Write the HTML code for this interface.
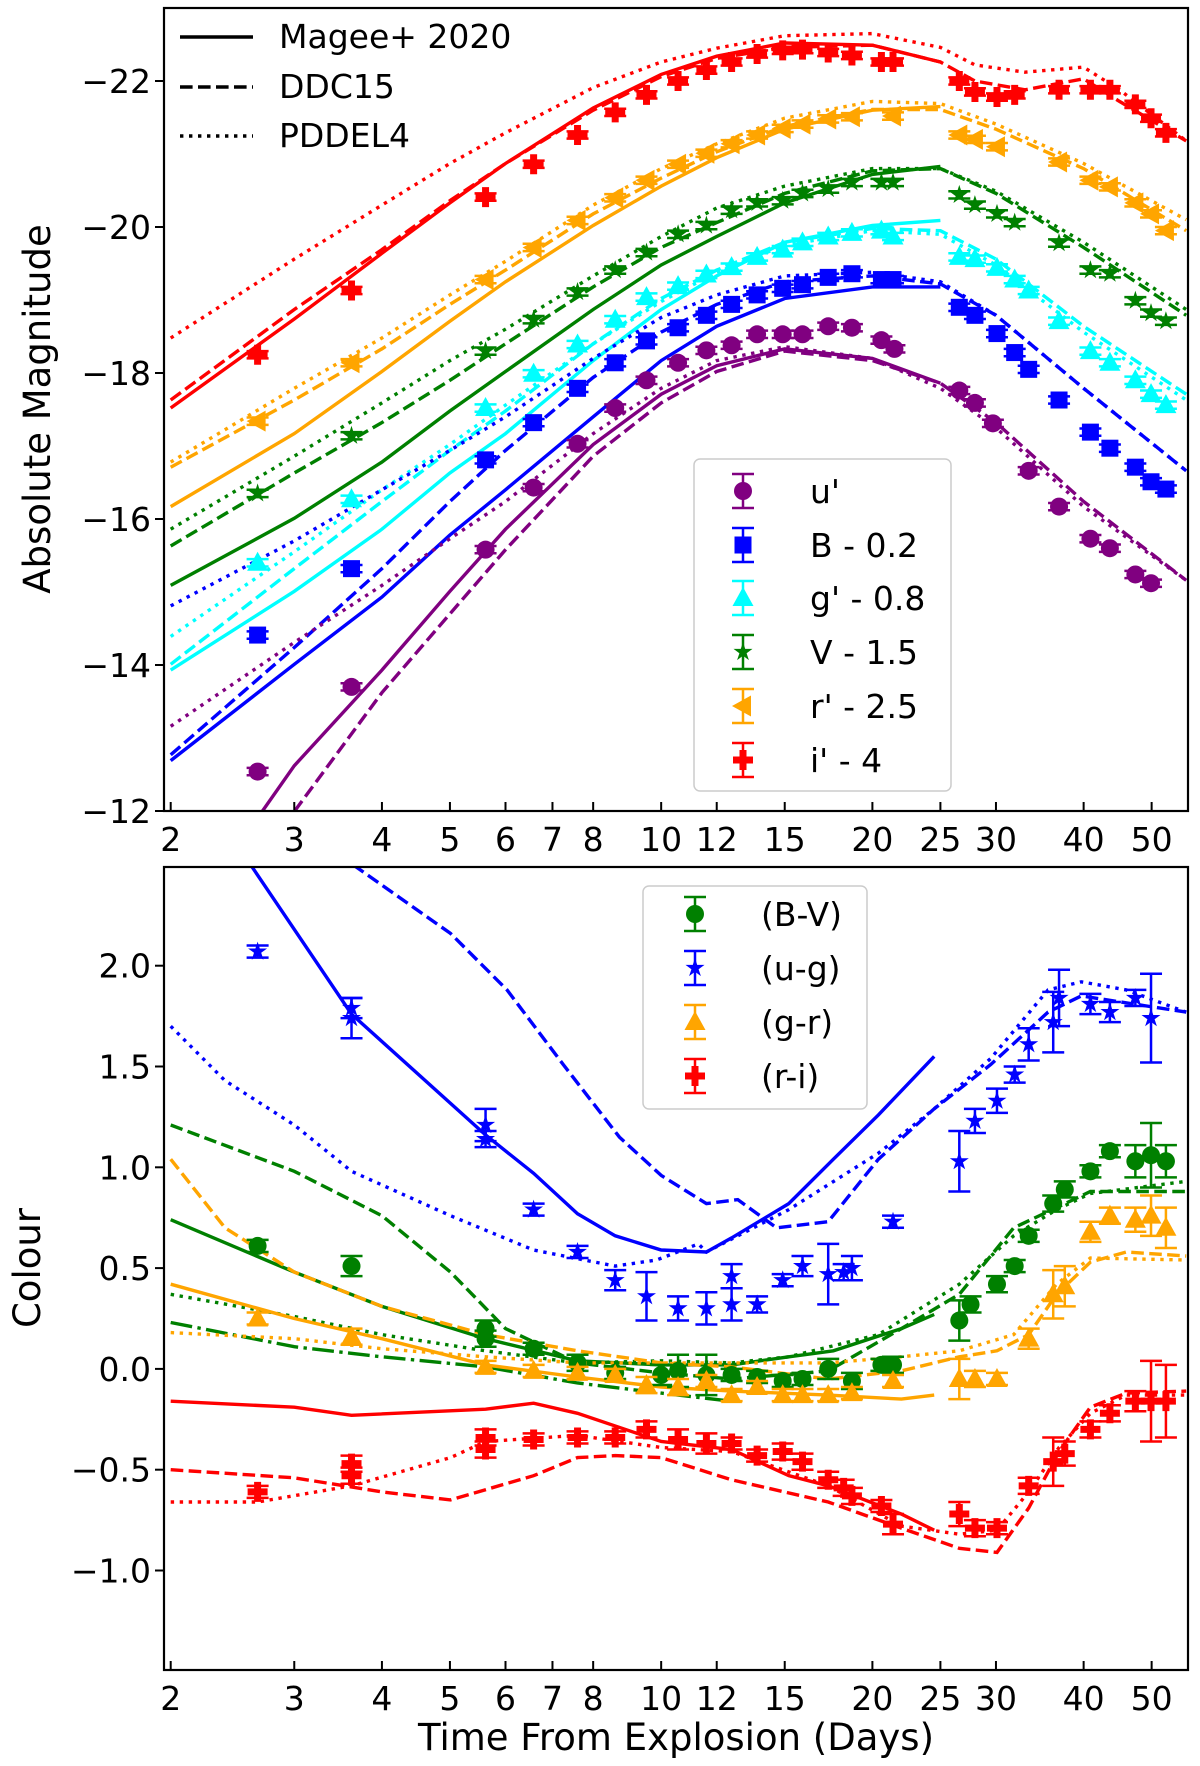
<!DOCTYPE html>
<html><head><meta charset="utf-8"><style>
html,body{margin:0;padding:0;background:#fff;}
svg{display:block;font-family:"DejaVu Sans","Liberation Sans",sans-serif;}
</style></head><body>
<svg id="fig" width="1200" height="1766" viewBox="0 0 1200 1766" xmlns="http://www.w3.org/2000/svg">
<defs>
<clipPath id="clipTop"><rect x="164" y="8" width="1024" height="803"/></clipPath>
<clipPath id="clipBot"><rect x="164" y="867" width="1024" height="803"/></clipPath>
</defs>
<g id="topPanel"></g>
<g id="botPanel"></g>
</svg>
<script>
// ---------- TOP PANEL DATA ----------
const tickXVals=[2,3,4,5,6,7,8,10,12,15,20,25,30,40,50];
const tickTopVals=[-22,-20,-18,-16,-14,-12];
const tickBotVals=[2.0,1.5,1.0,0.5,0.0,-0.5,-1.0];

const uT=[2.66,3.62,5.62,6.58,7.6,8.6,9.53,10.57,11.6,12.6,13.7,14.9,15.9,17.3,18.7,20.6,21.5,26.6,28.0,29.7,33.4,36.9,40.9,43.6,47.4,49.9];
const uM=[-12.54,-13.70,-15.58,-16.43,-17.03,-17.52,-17.90,-18.14,-18.31,-18.38,-18.53,-18.53,-18.53,-18.64,-18.62,-18.45,-18.33,-17.76,-17.59,-17.31,-16.66,-16.17,-15.73,-15.60,-15.24,-15.12];
const bT=[2.66,3.62,5.62,6.58,7.6,8.6,9.53,10.57,11.6,12.6,13.7,14.9,15.9,17.3,18.7,20.6,21.4,26.6,28.0,30.1,31.9,33.4,36.9,40.9,43.6,47.4,49.9,52.4];
const bM=[-14.41,-15.32,-16.81,-17.32,-17.79,-18.14,-18.44,-18.62,-18.79,-18.94,-19.07,-19.16,-19.21,-19.31,-19.36,-19.28,-19.28,-18.90,-18.79,-18.54,-18.28,-18.05,-17.63,-17.19,-16.97,-16.71,-16.51,-16.41];
const gT=[2.66,3.62,5.62,6.58,7.6,8.6,9.53,10.57,11.6,12.6,13.7,14.9,15.9,17.3,18.7,20.6,21.4,26.6,28.0,30.1,31.9,33.4,36.9,40.9,43.6,47.4,49.9,52.4];
const gM=[-15.40,-16.27,-17.52,-17.99,-18.39,-18.73,-19.04,-19.19,-19.35,-19.45,-19.59,-19.69,-19.79,-19.87,-19.92,-19.95,-19.87,-19.59,-19.56,-19.44,-19.28,-19.13,-18.71,-18.30,-18.14,-17.90,-17.71,-17.56];
const vT=[2.66,3.62,5.62,6.58,7.6,8.6,9.53,10.57,11.6,12.6,13.7,14.9,15.9,17.3,18.7,20.6,21.4,26.6,28.0,30.1,31.9,36.9,40.9,43.6,47.4,49.9,52.4];
const vM=[-16.35,-17.14,-18.30,-18.73,-19.11,-19.41,-19.65,-19.90,-20.02,-20.23,-20.33,-20.36,-20.46,-20.52,-20.61,-20.61,-20.61,-20.44,-20.30,-20.18,-20.06,-19.78,-19.41,-19.36,-18.99,-18.82,-18.71];
const rT=[2.66,3.62,5.62,6.58,7.6,8.6,9.53,10.57,11.6,12.6,13.7,14.9,15.9,17.3,18.7,21.4,26.6,28.0,30.1,36.9,40.9,43.6,47.4,49.9,52.4];
const rM=[-17.34,-18.14,-19.28,-19.72,-20.09,-20.40,-20.64,-20.86,-21.01,-21.14,-21.26,-21.35,-21.41,-21.48,-21.51,-21.52,-21.26,-21.20,-21.10,-20.89,-20.64,-20.55,-20.33,-20.18,-19.95];
const iT=[2.66,3.62,5.62,6.58,7.6,8.6,9.53,10.57,11.6,12.6,13.7,14.9,15.9,17.3,18.7,20.6,21.4,26.6,28.0,30.1,31.9,36.9,40.9,43.6,47.4,49.9,52.4];
const iM=[-18.25,-19.13,-20.41,-20.86,-21.26,-21.57,-21.81,-22.00,-22.15,-22.26,-22.37,-22.42,-22.43,-22.39,-22.35,-22.26,-22.26,-22.00,-21.85,-21.78,-21.81,-21.88,-21.88,-21.88,-21.68,-21.49,-21.29];

// model curves (top)
const solidT=[2,3,4,5,6,8,10,12,15,20,25];
const longT=[2,3,4,5,6,8,10,12,15,20,25,30,40,56];
const redLongT=[2,3,4,5,6,8,10,12,15,20,25,28,33,40,45,56];
const iSolid=[-17.52,-18.74,-19.64,-20.33,-20.87,-21.63,-22.09,-22.34,-22.52,-22.49,-22.26];
const iDash=[-17.63,-18.87,-19.69,-20.36,-20.87,-21.60,-22.06,-22.31,-22.46,-22.49,-22.26,-22.00,-21.88,-22.03,-21.72,-21.18];
const iDot=[-18.48,-19.56,-20.30,-20.87,-21.29,-21.91,-22.26,-22.45,-22.62,-22.65,-22.46,-22.22,-22.12,-22.19,-21.88,-21.18];
const rSolid=[-16.17,-17.17,-18.02,-18.71,-19.25,-20.02,-20.56,-20.95,-21.34,-21.60,-21.65];
const rDash=[-16.71,-17.63,-18.33,-18.94,-19.41,-20.18,-20.67,-21.03,-21.38,-21.61,-21.61,-21.34,-20.80,-19.95];
const rDot=[-16.78,-17.79,-18.48,-19.07,-19.53,-20.30,-20.80,-21.14,-21.49,-21.72,-21.69,-21.41,-20.87,-20.10];
const vSolid=[-15.09,-16.01,-16.78,-17.48,-18.02,-18.87,-19.48,-19.87,-20.33,-20.72,-20.83];
const vDash=[-15.63,-16.63,-17.32,-17.90,-18.40,-19.18,-19.72,-20.06,-20.46,-20.77,-20.80,-20.46,-19.72,-18.79];
const vDot=[-15.86,-16.86,-17.59,-18.17,-18.60,-19.33,-19.87,-20.26,-20.56,-20.80,-20.80,-20.49,-19.79,-18.87];
const gSolid=[-13.93,-15.01,-15.86,-16.63,-17.17,-18.17,-18.87,-19.33,-19.79,-20.02,-20.09];
const gDash=[-14.01,-15.32,-16.24,-16.94,-17.48,-18.40,-19.02,-19.41,-19.79,-19.98,-19.95,-19.56,-18.64,-17.71];
const gDot=[-14.39,-15.55,-16.40,-17.02,-17.56,-18.40,-18.98,-19.38,-19.75,-19.95,-19.90,-19.48,-18.56,-17.63];
const bSolid=[-12.69,-14.01,-14.93,-15.78,-16.40,-17.40,-18.17,-18.64,-19.02,-19.18,-19.18];
const bDash=[-12.77,-14.24,-15.32,-16.24,-16.94,-17.94,-18.56,-18.94,-19.25,-19.33,-19.22,-18.79,-17.79,-16.66];
const bDot=[-14.81,-15.70,-16.40,-16.94,-17.40,-18.20,-18.76,-19.07,-19.33,-19.38,-19.25,-18.79,-17.79,-16.66];
const uSolidT=[2.6,3,4,5,6,8,10,12,15,20,25];
const uSolid=[-11.77,-12.62,-13.93,-15.01,-15.86,-17.02,-17.71,-18.10,-18.33,-18.20,-17.86];
const uDashT=[2.9,4,5,6,8,10,12,15,20,25,30,40,56];
const uDash=[-11.8,-13.62,-14.70,-15.58,-16.86,-17.59,-18.02,-18.30,-18.17,-17.86,-17.32,-16.24,-15.16];
const uDot=[-13.16,-14.31,-15.09,-15.73,-16.24,-17.17,-17.79,-18.17,-18.36,-18.20,-17.79,-17.25,-16.17,-15.16];

// ---------- BOTTOM PANEL DATA ----------
const ugT=[2.66,3.62,3.62,5.62,5.62,6.58,7.6,8.6,9.53,10.57,11.6,12.6,12.6,13.7,14.9,15.9,17.3,18.2,18.7,21.4,26.6,28.0,30.1,31.9,33.4,36.2,36.9,40.9,43.6,47.4,49.9];
const ugC=[2.07,1.79,1.74,1.21,1.14,0.79,0.58,0.44,0.36,0.30,0.30,0.32,0.46,0.32,0.44,0.51,0.47,0.48,0.50,0.73,1.03,1.23,1.33,1.46,1.61,1.72,1.84,1.81,1.77,1.84,1.74];
const ugE=[0.03,0.05,0.1,0.08,0.04,0.03,0.03,0.05,0.12,0.06,0.08,0.08,0.06,0.04,0.03,0.05,0.15,0.04,0.06,0.03,0.15,0.06,0.06,0.04,0.08,0.15,0.14,0.05,0.05,0.04,0.22];
const bvT=[2.66,3.62,5.62,5.62,6.58,7.6,8.6,10.0,10.57,11.6,12.6,13.7,14.9,15.9,17.3,18.7,20.6,21.4,26.6,27.6,30.1,31.9,33.4,36.2,37.6,40.9,43.6,47.4,49.9,52.4];
const bvC=[0.61,0.51,0.20,0.15,0.10,0.03,-0.02,-0.03,-0.01,-0.03,-0.03,-0.04,-0.06,-0.05,0.00,-0.06,0.02,0.02,0.24,0.32,0.42,0.51,0.66,0.82,0.89,0.98,1.08,1.03,1.06,1.03];
const bvE=[0.03,0.05,0.04,0.04,0.03,0.04,0.03,0.05,0.08,0.1,0.03,0.03,0.03,0.03,0.05,0.04,0.03,0.04,0.1,0.04,0.04,0.03,0.03,0.04,0.04,0.03,0.03,0.08,0.16,0.08];
const grT=[2.66,3.62,5.62,6.58,7.6,8.6,9.53,10.57,11.6,12.6,13.7,14.9,15.9,17.3,18.7,21.4,26.6,28.0,30.1,33.4,36.2,37.6,40.9,43.6,47.4,49.9,52.4];
const grC=[0.25,0.16,0.01,-0.01,-0.02,-0.03,-0.08,-0.09,-0.06,-0.13,-0.09,-0.13,-0.13,-0.13,-0.12,-0.06,-0.05,-0.05,-0.05,0.15,0.37,0.41,0.68,0.76,0.74,0.76,0.70];
const grE=[0.03,0.04,0.03,0.03,0.03,0.03,0.04,0.04,0.03,0.03,0.03,0.03,0.03,0.03,0.03,0.03,0.1,0.04,0.03,0.05,0.12,0.1,0.05,0.04,0.06,0.1,0.1];
const riT=[2.66,3.62,3.62,5.62,5.62,6.58,7.6,8.6,9.53,10.57,11.6,12.6,13.7,14.9,15.9,17.3,18.2,18.7,20.6,21.4,26.6,28.0,30.1,33.4,36.2,37.6,40.9,43.6,47.4,49.9,52.4];
const riC=[-0.61,-0.47,-0.53,-0.34,-0.40,-0.35,-0.34,-0.34,-0.30,-0.35,-0.37,-0.37,-0.43,-0.41,-0.46,-0.55,-0.59,-0.63,-0.68,-0.77,-0.72,-0.79,-0.79,-0.58,-0.46,-0.42,-0.30,-0.22,-0.16,-0.16,-0.16];
const riE=[0.03,0.04,0.04,0.04,0.04,0.03,0.03,0.03,0.04,0.05,0.05,0.03,0.03,0.04,0.04,0.04,0.04,0.04,0.03,0.05,0.06,0.04,0.03,0.04,0.12,0.06,0.04,0.04,0.05,0.2,0.18];

// colour models
const cugSolidT=[2.6,3.62,5.62,6.58,7.6,8.6,10,11.6,12.6,15.2,17.6,20.4,24.5];
const cugSolid=[2.50,1.76,1.16,0.97,0.77,0.66,0.59,0.58,0.65,0.82,1.04,1.26,1.55];
const cugDashT=[3.64,5.01,6.03,7.25,8.72,10,11.6,12.86,14.6,17.3,20.4,24.5,29.5,35.6,39.7,56];
const cugDash=[2.50,2.16,1.88,1.51,1.15,0.96,0.82,0.84,0.70,0.73,1.04,1.29,1.51,1.77,1.85,1.77];
const cugDotT=[2,2.39,3.0,3.62,5.01,6.58,8.6,9.85,11.3,11.6,15.2,20.4,24.5,29.5,35.6,39.7,46.0,56];
const cugDot=[1.70,1.43,1.21,0.98,0.76,0.59,0.51,0.54,0.62,0.58,0.79,1.07,1.29,1.54,1.88,1.92,1.88,1.77];
const cbvSolidT=[2,3,4,5.62,7.6,10,12.6,15.2,17.6,22.0,24.5];
const cbvSolid=[0.74,0.48,0.31,0.15,0.04,0.02,0.02,0.06,0.09,0.20,0.27];
const cbvDashT=[2,3,4,5.01,6,7.6,10,12.6,17.3,22,26.6,31.8,36.6,40.9,56];
const cbvDash=[1.21,0.98,0.76,0.48,0.20,0.03,-0.02,-0.05,-0.01,0.20,0.37,0.70,0.80,0.88,0.88];
const cbvDotT=[2,3,4,5.62,7.6,10,12.6,15.2,20.4,26.6,31.8,36.6,40.9,56];
const cbvDot=[0.37,0.26,0.17,0.09,0.03,0.04,0.03,0.06,0.17,0.42,0.66,0.79,0.87,0.93];
const cbvDashDotT=[2,3,4,5.62,7.6,10,12.6];
const cbvDashDot=[0.23,0.11,0.06,0.01,-0.07,-0.12,-0.16];
const cgrSolidT=[2,3,4,5.62,7.6,10,12.6,17.3,22,24.5];
const cgrSolid=[0.42,0.25,0.15,0.02,-0.04,-0.09,-0.11,-0.13,-0.15,-0.13];
const cgrDashT=[2,2.39,3,4,5.62,7.6,10,12.6,17.3,22,26.6,30.1,33.4,36.6,40.9,46,56];
const cgrDash=[1.04,0.70,0.48,0.31,0.17,0.09,0.03,0.01,-0.05,-0.01,0.06,0.09,0.17,0.37,0.53,0.58,0.56];
const cgrDotT=[2,3,4,5.62,7.6,10,12.6,17.3,22,26.6,31.8,36.6,40.9,56];
const cgrDot=[0.18,0.15,0.10,0.06,0.03,0.03,0.03,0.03,0.06,0.09,0.17,0.42,0.55,0.54];
const criSolidT=[2,3,3.62,5.62,6.58,7.6,10,12.6,15.2,17.3,22,24.5];
const criSolid=[-0.16,-0.19,-0.23,-0.20,-0.17,-0.22,-0.36,-0.40,-0.53,-0.58,-0.72,-0.80];
const criDashT=[2,3,4,5.01,6.58,7.6,8.6,10,12.6,17.3,22,26.6,30.1,33.4,36.9,40.9,46,56];
const criDash=[-0.50,-0.54,-0.61,-0.65,-0.53,-0.44,-0.43,-0.44,-0.55,-0.66,-0.79,-0.89,-0.91,-0.69,-0.41,-0.19,-0.12,-0.11];
const criDotT=[2,2.66,3.62,5.01,5.62,7.6,10,12.6,17.3,22,26.6,30.1,33.4,36.9,40.9,46,56];
const criDot=[-0.66,-0.66,-0.58,-0.44,-0.36,-0.33,-0.39,-0.41,-0.58,-0.78,-0.82,-0.80,-0.61,-0.39,-0.22,-0.13,-0.13];

// ---------- AXES ----------
const X0=170.7, PXD=701.7;
function xs(t){return X0+PXD*Math.log10(t/2);}
function yTop(m){return 811+(m+12)*73;}
function yBot(c){return 1368.9-c*201.6;}
const L=164,R=1188, T1=8,B1=811, T2=867,B2=1670;
const NS='http://www.w3.org/2000/svg';
function mk(tag,attrs,parent){const e=document.createElementNS(NS,tag);for(const k in attrs)e.setAttribute(k,attrs[k]);parent.appendChild(e);return e;}
const topG=document.getElementById('topPanel'), botG=document.getElementById('botPanel');
const COL={u:'#800080',B:'#0000ff',g:'#00ffff',V:'#008000',r:'#ffa500',i:'#ff0000'};
const DASH={solid:'',dash:'12.6,5.4',dot:'3.4,5.6',dashdot:'21.8,5.4,3.4,5.4'};
const LW=3.4;

function drawLine(parent,ts,vs,yf,color,style,clip,name){
  let d='';
  for(let k=0;k<ts.length;k++){d+=(k?'L':'M')+xs(ts[k]).toFixed(1)+','+yf(vs[k]).toFixed(1);}
  const p=mk('path',{d:d,fill:'none',stroke:color,'stroke-width':LW,'stroke-dasharray':DASH[style]||'none','clip-path':'url(#'+clip+')'},parent);
  
  
}
function starPts(x,y,r){let s='';for(let k=0;k<10;k++){const a=-Math.PI/2+k*Math.PI/5;const rr=k%2?r*0.38:r;s+=(x+rr*Math.cos(a)).toFixed(1)+','+(y+rr*Math.sin(a)).toFixed(1)+' ';}return s;}
function marker(parent,type,x,y,color){
  let e;
  if(type==='o') e=mk('circle',{cx:x,cy:y,r:9,fill:color},parent);
  else if(type==='s') e=mk('rect',{x:x-8.5,y:y-8.5,width:17,height:17,fill:color},parent);
  else if(type==='^') e=mk('polygon',{points:`${x},${y-11} ${x+10.5},${y+8} ${x-10.5},${y+8}`,fill:color},parent);
  else if(type==='<') e=mk('polygon',{points:`${x-11},${y} ${x+8},${y-10.5} ${x+8},${y+10.5}`,fill:color},parent);
  else if(type==='*') e=mk('polygon',{points:starPts(x,y,10),fill:color},parent);
  else e=mk('path',{d:`M${x-3.5},${y-10}h7v6.5h6.5v7h-6.5v6.5h-7v-6.5h-6.5v-7h6.5z`,fill:color},parent);
  return e;
}
function errbar(parent,x,y1,y2,color){
  mk('line',{x1:x,x2:x,y1:y1,y2:y2,stroke:color,'stroke-width':2.5},parent);
  mk('line',{x1:x-11,x2:x+11,y1:y1,y2:y1,stroke:color,'stroke-width':2.5},parent);
  mk('line',{x1:x-11,x2:x+11,y1:y2,y2:y2,stroke:color,'stroke-width':2.5},parent);
}
function drawPoints(parent,ts,vs,es,yf,type,color,clip,name){
  const g=mk('g',{'clip-path':'url(#'+clip+')'},parent);
  
  
  for(let k=0;k<ts.length;k++){
    const x=xs(ts[k]),y=yf(vs[k]),e=es?es[k]:0.05;
    errbar(g,x,yf(vs[k]-e),yf(vs[k]+e),color);
    const m=marker(g,type,x,y,color);
    
    
  }
}
function frame(parent,y0,y1,name){
  const r=mk('rect',{x:L,y:y0,width:R-L,height:y1-y0,fill:'none',stroke:'#000','stroke-width':2.2},parent);
  
  
}
function xTicks(parent,yb,labY){
  for(const v of tickXVals){
    const x=xs(v);
    mk('line',{x1:x,x2:x,y1:yb,y2:yb-9,stroke:'#000','stroke-width':2},parent);
    const t=mk('text',{x:x,y:labY,'font-size':33,'text-anchor':'middle'},parent);
    t.textContent=v;
    
    
  }
}
function yTicks(parent,vals,yf,fmt){
  for(const v of vals){
    const y=yf(v);
    mk('line',{x1:L,x2:L-9,y1:y,y2:y,stroke:'#000','stroke-width':2},parent);
    const t=mk('text',{x:L-13,y:y+12,'font-size':33,'text-anchor':'end'},parent);
    t.textContent=fmt(v);
    
    
  }
}
const minus=s=>s.replace('-','\u2212');

// ---------- DRAW TOP ----------
drawLine(topG,solidT,iSolid,yTop,COL.i,'solid','clipTop','i-magee-line');
drawLine(topG,redLongT,iDash,yTop,COL.i,'dash','clipTop','i-ddc15-line');
drawLine(topG,redLongT,iDot,yTop,COL.i,'dot','clipTop','i-pddel4-line');
drawLine(topG,solidT,rSolid,yTop,COL.r,'solid','clipTop','r-magee-line');
drawLine(topG,longT,rDash,yTop,COL.r,'dash','clipTop','r-ddc15-line');
drawLine(topG,longT,rDot,yTop,COL.r,'dot','clipTop','r-pddel4-line');
drawLine(topG,solidT,vSolid,yTop,COL.V,'solid','clipTop','v-magee-line');
drawLine(topG,longT,vDash,yTop,COL.V,'dash','clipTop','v-ddc15-line');
drawLine(topG,longT,vDot,yTop,COL.V,'dot','clipTop','v-pddel4-line');
drawLine(topG,solidT,gSolid,yTop,COL.g,'solid','clipTop','g-magee-line');
drawLine(topG,longT,gDash,yTop,COL.g,'dash','clipTop','g-ddc15-line');
drawLine(topG,longT,gDot,yTop,COL.g,'dot','clipTop','g-pddel4-line');
drawLine(topG,solidT,bSolid,yTop,COL.B,'solid','clipTop','b-magee-line');
drawLine(topG,longT,bDash,yTop,COL.B,'dash','clipTop','b-ddc15-line');
drawLine(topG,longT,bDot,yTop,COL.B,'dot','clipTop','b-pddel4-line');
drawLine(topG,uSolidT,uSolid,yTop,COL.u,'solid','clipTop','u-magee-line');
drawLine(topG,uDashT,uDash,yTop,COL.u,'dash','clipTop','u-ddc15-line');
drawLine(topG,longT,uDot,yTop,COL.u,'dot','clipTop','u-pddel4-line');
drawPoints(topG,uT,uM,null,yTop,'o',COL.u,'clipTop','u-data');
drawPoints(topG,bT,bM,null,yTop,'s',COL.B,'clipTop','b-data');
drawPoints(topG,gT,gM,null,yTop,'^',COL.g,'clipTop','g-data');
drawPoints(topG,vT,vM,null,yTop,'*',COL.V,'clipTop','v-data');
drawPoints(topG,rT,rM,null,yTop,'<',COL.r,'clipTop','r-data');
drawPoints(topG,iT,iM,null,yTop,'P',COL.i,'clipTop','i-data');
frame(topG,T1,B1,'top-axes-frame');
xTicks(topG,B1,851);
yTicks(topG,tickTopVals,yTop,v=>minus(String(v)));

// top legend (model styles)
const lgTop=mk('g',{},topG);


[['solid','Magee+ 2020',37],['dash','DDC15',87],['dot','PDDEL4',136]].forEach(([s,lab,y])=>{
  mk('line',{x1:180,x2:253,y1:y,y2:y,stroke:'#000','stroke-width':LW,'stroke-dasharray':DASH[s]||'none'},lgTop);
  const t=mk('text',{x:279,y:y+11,'font-size':33},lgTop);
  t.textContent=lab;
  
  
});
// band legend
const lgB=mk('g',{},topG);


mk('rect',{x:694,y:459,width:257,height:332,rx:6,fill:'#fff','fill-opacity':0.8,stroke:'#ccc','stroke-width':1.5},lgB);
[['o',COL.u,"u'",491],['s',COL.B,'B - 0.2',545],['^',COL.g,"g' - 0.8",598],['*',COL.V,'V - 1.5',652],['<',COL.r,"r' - 2.5",706],['P',COL.i,"i' - 4",760]].forEach(([m,c,lab,y])=>{
  errbar(lgB,743,y-17,y+17,c);
  marker(lgB,m,743,y,c);
  const t=mk('text',{x:810,y:y+12,'font-size':33},lgB);
  t.textContent=lab;
  
  
});
const yt1=mk('text',{x:0,y:0,'font-size':37,'text-anchor':'middle',transform:'translate(50,409) rotate(-90)'},topG);
yt1.textContent='Absolute Magnitude';



// ---------- DRAW BOTTOM ----------
drawLine(botG,cugSolidT,cugSolid,yBot,COL.B,'solid','clipBot','ug-magee-line');
drawLine(botG,cugDashT,cugDash,yBot,COL.B,'dash','clipBot','ug-ddc15-line');
drawLine(botG,cugDotT,cugDot,yBot,COL.B,'dot','clipBot','ug-pddel4-line');
drawLine(botG,cbvSolidT,cbvSolid,yBot,COL.V,'solid','clipBot','bv-magee-line');
drawLine(botG,cbvDashT,cbvDash,yBot,COL.V,'dash','clipBot','bv-ddc15-line');
drawLine(botG,cbvDotT,cbvDot,yBot,COL.V,'dot','clipBot','bv-pddel4-line');
drawLine(botG,cbvDashDotT,cbvDashDot,yBot,COL.V,'dashdot','clipBot','bv-dashdot-line');
drawLine(botG,cgrSolidT,cgrSolid,yBot,COL.r,'solid','clipBot','gr-magee-line');
drawLine(botG,cgrDashT,cgrDash,yBot,COL.r,'dash','clipBot','gr-ddc15-line');
drawLine(botG,cgrDotT,cgrDot,yBot,COL.r,'dot','clipBot','gr-pddel4-line');
drawLine(botG,criSolidT,criSolid,yBot,COL.i,'solid','clipBot','ri-magee-line');
drawLine(botG,criDashT,criDash,yBot,COL.i,'dash','clipBot','ri-ddc15-line');
drawLine(botG,criDotT,criDot,yBot,COL.i,'dot','clipBot','ri-pddel4-line');
drawPoints(botG,bvT,bvC,bvE,yBot,'o',COL.V,'clipBot','bv-data');
drawPoints(botG,ugT,ugC,ugE,yBot,'*',COL.B,'clipBot','ug-data');
drawPoints(botG,grT,grC,grE,yBot,'^',COL.r,'clipBot','gr-data');
drawPoints(botG,riT,riC,riE,yBot,'P',COL.i,'clipBot','ri-data');
frame(botG,T2,B2,'bottom-axes-frame');
xTicks(botG,B2,1710);
yTicks(botG,tickBotVals,yBot,v=>minus(v.toFixed(1)));
const lgC=mk('g',{},botG);


mk('rect',{x:643,y:886,width:224,height:223,rx:6,fill:'#fff','fill-opacity':0.8,stroke:'#ccc','stroke-width':1.5},lgC);
[['o',COL.V,'(B-V)',914],['*',COL.B,'(u-g)',968],['^',COL.r,'(g-r)',1022],['P',COL.i,'(r-i)',1076]].forEach(([m,c,lab,y])=>{
  errbar(lgC,695,y-17,y+17,c);
  marker(lgC,m,695,y,c);
  const t=mk('text',{x:761,y:y+12,'font-size':33},lgC);
  t.textContent=lab;
  
  
});
const yt2=mk('text',{x:0,y:0,'font-size':37,'text-anchor':'middle',transform:'translate(40,1268) rotate(-90)'},botG);
yt2.textContent='Colour';


const xt=mk('text',{x:676,y:1750,'font-size':37,'text-anchor':'middle'},botG);
xt.textContent='Time From Explosion (Days)';


</script>
</body></html>
